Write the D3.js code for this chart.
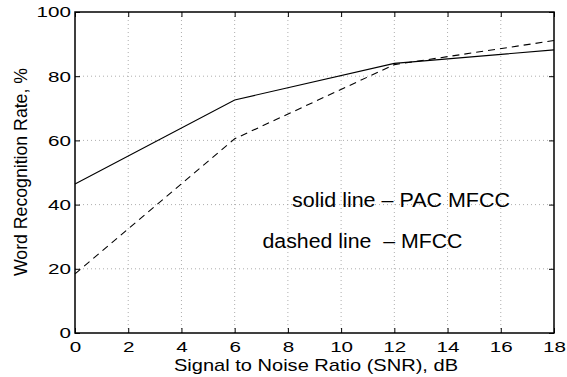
<!DOCTYPE html>
<html>
<head>
<meta charset="utf-8">
<script src="https://cdn.jsdelivr.net/npm/d3@7"></script>
<style>
  body { margin: 0; background: #fff; }
  text { font-family: "Liberation Sans", Arial, sans-serif; fill: #000; }
</style>
</head>
<body>
<div id="chart"></div>
<script>
// Data
const snr = [0, 6, 12, 18];
const pacMfcc = [46.4, 72.6, 84.0, 88.2];
const mfcc = [18.4, 60.5, 83.6, 91.1];
const xTicks = [0, 2, 4, 6, 8, 10, 12, 14, 16, 18];
const yTicks = [0, 20, 40, 60, 80, 100];

const width = 567, height = 377;
const margin = { top: 12, right: 13, bottom: 44, left: 75 };

const svg = d3.select('#chart').append('svg')
  .attr('width', width)
  .attr('height', height);

const x = d3.scaleLinear().domain([0, 18]).range([margin.left, width - margin.right]);
const y = d3.scaleLinear().domain([0, 100]).range([height - margin.bottom, margin.top]);

// the original figure's text is a bit wider than Liberation Sans
function stretch(sel, k) {
  sel.each(function () {
    const len = this.getComputedTextLength();
    d3.select(this).attr('textLength', len * k).attr('lengthAdjust', 'spacingAndGlyphs');
  });
}

// text of a fixed length laid out from its centre
function fixedText(g, str, cx, len) {
  return g.append('text')
    .attr('x', cx - len / 2)
    .attr('textLength', len)
    .attr('lengthAdjust', 'spacingAndGlyphs')
    .style('white-space', 'pre')
    .text(str);
}

// dotted grid
const grid = svg.append('g').attr('stroke', '#999').attr('stroke-width', 0.8)
  .attr('stroke-dasharray', '1,3');
grid.selectAll('line.gx').data(xTicks.slice(1, -1)).join('line')
  .attr('x1', d => x(d)).attr('x2', d => x(d))
  .attr('y1', y(0)).attr('y2', y(100));
grid.selectAll('line.gy').data(yTicks.slice(1, -1)).join('line')
  .attr('x1', x(0)).attr('x2', x(18))
  .attr('y1', d => y(d)).attr('y2', d => y(d));

// series
const line = d3.line().x((d, i) => x(snr[i])).y(d => y(d));
svg.append('path').datum(pacMfcc)
  .attr('d', line).attr('fill', 'none')
  .attr('stroke', '#000').attr('stroke-width', 1.1);
svg.append('path').datum(mfcc)
  .attr('d', line).attr('fill', 'none')
  .attr('stroke', '#000').attr('stroke-width', 1.1)
  .attr('stroke-dasharray', '7,5');

// axes, ticks pointing inward, box all round
const tickLen = 5;
svg.append('g').attr('transform', `translate(0,${y(0)})`)
  .call(d3.axisBottom(x).tickValues(xTicks).tickSize(-tickLen).tickPadding(7.5))
  .call(g => g.select('.domain').remove());
svg.append('g').attr('transform', `translate(0,${y(100)})`)
  .call(d3.axisTop(x).tickValues(xTicks).tickSize(-tickLen).tickFormat(''))
  .call(g => g.select('.domain').remove());
svg.append('g').attr('transform', `translate(${x(0)},0)`)
  .call(d3.axisLeft(y).tickValues(yTicks).tickSize(-tickLen).tickPadding(4))
  .call(g => g.select('.domain').remove());
svg.append('g').attr('transform', `translate(${x(18)},0)`)
  .call(d3.axisRight(y).tickValues(yTicks).tickSize(-tickLen).tickFormat(''))
  .call(g => g.select('.domain').remove());

svg.selectAll('.tick line').attr('stroke', '#000').attr('stroke-width', 1);
svg.selectAll('.tick text')
  .attr('font-size', 15.5)
  .attr('font-family', '"Liberation Sans", Arial, sans-serif')
  .attr('fill', '#000')
  .call(stretch, 1.33);

svg.append('rect')
  .attr('x', x(0)).attr('y', y(100))
  .attr('width', x(18) - x(0)).attr('height', y(0) - y(100))
  .attr('fill', 'none').attr('stroke', '#000').attr('stroke-width', 1.5);

// axis labels
fixedText(svg, 'Signal to Noise Ratio (SNR), dB', 316, 284)
  .attr('y', 370.5).style('font-size', '17px');
const yLab = svg.append('g').attr('transform', 'translate(26.5,172) rotate(-90) scale(1,1.25)');
fixedText(yLab, 'Word Recognition Rate, %', 0, 208)
  .attr('y', 0).style('font-size', '15px');

// annotations
fixedText(svg, 'solid line \u2013 PAC MFCC', 401, 218)
  .attr('y', 207).style('font-size', '20px');
fixedText(svg, 'dashed line  \u2013 MFCC', 362.5, 200)
  .attr('y', 248).style('font-size', '20px');
</script>
</body>
</html>
